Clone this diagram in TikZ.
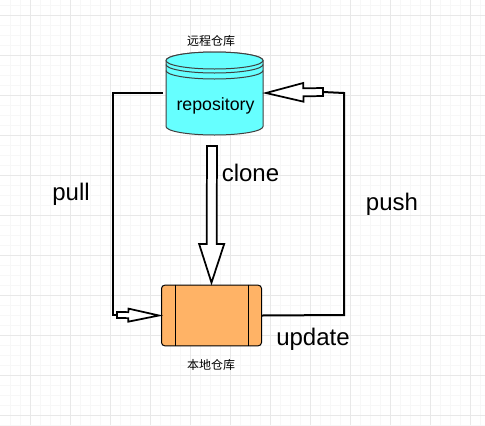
\documentclass[tikz,border=0pt]{standalone}
\usepackage{fontspec}
\setmainfont{Liberation Sans}
\newfontfamily\cjk{Noto Sans CJK SC}
\usetikzlibrary{calc,positioning}
\definecolor{gridmajor}{HTML}{E8E8E8}
\definecolor{gridminor}{HTML}{F7F7F7}
\definecolor{repocyan}{HTML}{66FFFF}
\definecolor{localorange}{HTML}{FFB366}
\tikzset{
	wire/.style={line width=1.5pt, line join=miter},
	hollow/.style={draw=black, fill=white, line width=1.3pt, line join=miter, miter limit=6},
	shell/.style={draw=black!75, line width=0.75pt},
	biglabel/.style={font=\fontsize{18}{20}\selectfont, inner sep=0pt},
	cnlabel/.style={font=\cjk\fontsize{9}{10}\selectfont, inner sep=0pt},
	localbox/.style={draw=black, fill=localorange, line width=0.75pt, rounded corners=2.5pt,
		minimum width=75pt, minimum height=45.5pt, inner sep=0pt},
	repotext/.style={font=\fontsize{13.3}{15}\selectfont, minimum width=72.75pt, inner sep=0pt},
}
% tail, tip, half shaft, half head, head length
\newcommand{\blockarrow}[5]{
	\draw[hollow] ($(#1)!#3!90:(#2)$)
	-- ($($(#2)!#5!(#1)$)!#3!90:(#2)$)
	-- ($($(#2)!#5!(#1)$)!#4!90:(#2)$)
	-- (#2)
	-- ($($(#2)!#5!(#1)$)!#4!-90:(#2)$)
	-- ($($(#2)!#5!(#1)$)!#3!-90:(#2)$)
	-- ($(#1)!#3!-90:(#2)$) -- cycle;
}

\begin{document}
\begin{tikzpicture}[x=0.75pt, y=-0.75pt]
	\useasboundingbox (0,0) rectangle (485,425);
	\fill[white] (0,0) rectangle (485,425);
	
	% grid
	\foreach \gx in {10,20,...,480} \draw[gridminor, line width=0.75pt] (\gx,0) -- (\gx,425);
	\foreach \gy in {5,15,...,425} \draw[gridminor, line width=0.75pt] (0,\gy) -- (485,\gy);
	\foreach \gx in {30,70,...,470} \draw[gridmajor, line width=0.75pt] (\gx,0) -- (\gx,425);
	\foreach \gy in {15,55,...,415} \draw[gridmajor, line width=0.75pt] (0,\gy) -- (485,\gy);
	
	% cylinder
	\filldraw[shell, fill=repocyan] (166,60.5)
	arc[start angle=180, end angle=360, x radius=48.5, y radius=8.5]
	-- (263,126.5)
	arc[start angle=0, end angle=180, x radius=48.5, y radius=8.5]
	-- cycle;
	\filldraw[shell, fill=repocyan] (166,60.5)
	arc[start angle=180, end angle=0, x radius=48.5, y radius=8.5]
	arc[start angle=0, end angle=-180, x radius=48.5, y radius=8.5];
	\draw[shell] (166,64.5) arc[start angle=180, end angle=0, x radius=48.5, y radius=8.5];
	\draw[shell] (166,70.5) arc[start angle=180, end angle=0, x radius=48.5, y radius=8.5];
	
	\node[repotext] (repo) at (215.5,106) {repository};
	\node[localbox] (local) at (211.5,315.5) {};
	\draw[line width=0.75pt] ([xshift=10.5pt]local.north west) -- ([xshift=10.5pt]local.south west);
	\draw[line width=0.75pt] ([xshift=-10.5pt]local.north east) -- ([xshift=-10.5pt]local.south east);
	
	\node[cnlabel] (repocn) at (211,41) {远程仓库};
	\node[cnlabel] (localcn) at (211,365) {本地仓库};
	\node[biglabel] (clonetext) at (250.5,173) {clone};
	\node[biglabel] (pulltext) at (71,194) {pull};
	\node[biglabel] (pushtext) at (392,204) {push};
	\node[biglabel] (updatetext) at (313,339) {update};
	
	\coordinate (pullfrom) at (163,93);
	\coordinate (pullend) at (117,315);
	\coordinate (pulltip) at ($(local.west)+(-2,0)$);
	\coordinate (pushend) at (323,92);
	\coordinate (pushtip) at (266,93);
	\coordinate (clonetail) at (212,146);
	\coordinate (clonetip) at ($(local.north)+(0,-2)$);
	
	\draw[wire] (pullfrom) -- (113,93) -- (113,315) -- (pullend);
	\draw[wire] (local.east) -- (344,315) -- (344,93) -- (pushend);
	\blockarrow{pullend}{pulltip}{2.25pt}{4.9pt}{23pt}
	\blockarrow{pushend}{pushtip}{3pt}{7pt}{28pt}
	\blockarrow{clonetail}{clonetip}{3.75pt}{9.4pt}{29pt}
\end{tikzpicture}
\end{document}
